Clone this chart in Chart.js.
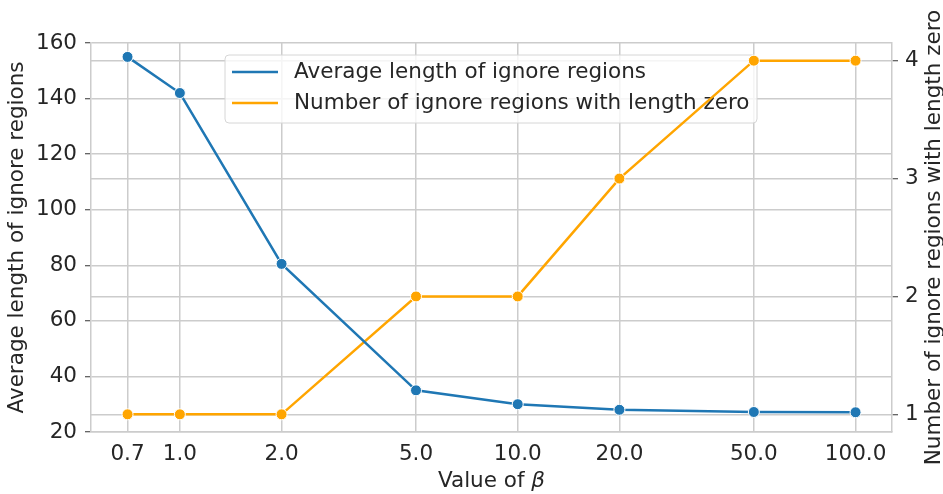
<!DOCTYPE html>
<html>
<head>
<meta charset="utf-8">
<script src="https://cdn.jsdelivr.net/npm/chart.js@4.4.1/dist/chart.umd.min.js"></script>
<style>
  html, body { margin: 0; padding: 0; background: #ffffff; }
  #wrap { width: 943px; height: 494px; position: relative; }
</style>
</head>
<body>
<div id="wrap"><canvas id="c"></canvas></div>
<script>
// ---- data ----
const betaValues = [0.7, 1.0, 2.0, 5.0, 10.0, 20.0, 50.0, 100.0];
const avgLength = [155, 142, 80.5, 35, 30, 28, 27.2, 27.1];
const zeroCount = [1, 1, 1, 2, 2, 3, 4, 4];
const xTickValues = [0.7, 1.0, 2.0, 5.0, 10.0, 20.0, 50.0, 100.0];
const xTickLabels = ['0.7', '1.0', '2.0', '5.0', '10.0', '20.0', '50.0', '100.0'];
const leftTicks = [20, 40, 60, 80, 100, 120, 140, 160];
const rightTicks = [1, 2, 3, 4];
const seriesNames = ['Average length of ignore regions', 'Number of ignore regions with length zero'];
const xTitleText = 'Value of ';
const xTitleSymbol = '\u03B2';
const leftTitle = 'Average length of ignore regions';
const rightTitle = 'Number of ignore regions with length zero';

const BLUE = '#1f77b4';
const ORANGE = '#ffa500';
const GRID = '#cccccc';
const TEXT = '#262626';
const FONT = 'DejaVu Sans';
const FS = 21.5;

const legendPlugin = {
  id: 'innerLegend',
  beforeDatasetsDraw(chart) {
    const ctx = chart.ctx;
    ctx.save();
    const x0 = 225, y0 = 55, x1 = 757, y1 = 123, r = 4;
    ctx.beginPath();
    ctx.moveTo(x0 + r, y0);
    ctx.arcTo(x1, y0, x1, y1, r);
    ctx.arcTo(x1, y1, x0, y1, r);
    ctx.arcTo(x0, y1, x0, y0, r);
    ctx.arcTo(x0, y0, x1, y0, r);
    ctx.closePath();
    ctx.fillStyle = 'rgba(255,255,255,0.8)';
    ctx.fill();
    ctx.strokeStyle = '#d6d6d6';
    ctx.lineWidth = 1;
    ctx.stroke();
    const rows = [72, 103];
    chart.data.datasets.forEach((ds, i) => {
      ctx.beginPath();
      ctx.strokeStyle = ds.borderColor;
      ctx.lineWidth = 2.5;
      ctx.moveTo(232, rows[i]);
      ctx.lineTo(278, rows[i]);
      ctx.stroke();
      ctx.fillStyle = TEXT;
      ctx.font = FS + 'px "' + FONT + '"';
      ctx.textBaseline = 'middle';
      ctx.textAlign = 'left';
      ctx.fillText(ds.label, 294, rows[i]);
    });
    ctx.restore();
  }
};

const titlesPlugin = {
  id: 'extraTitles',
  afterDraw(chart) {
    const ctx = chart.ctx;
    const area = chart.chartArea;
    ctx.save();
    // right axis title (reads bottom to top)
    ctx.translate(934, (area.top + area.bottom) / 2);
    ctx.rotate(-Math.PI / 2);
    ctx.fillStyle = TEXT;
    ctx.font = FS + 'px "' + FONT + '"';
    ctx.textAlign = 'center';
    ctx.textBaseline = 'middle';
    ctx.fillText(rightTitle, 0, 0);
    ctx.restore();

    // x axis title with italic beta
    ctx.save();
    ctx.fillStyle = TEXT;
    ctx.textBaseline = 'alphabetic';
    ctx.textAlign = 'left';
    const normal = FS + 'px "' + FONT + '"';
    const italic = 'italic ' + FS + 'px "' + FONT + '"';
    ctx.font = normal;
    const w1 = ctx.measureText(xTitleText).width;
    ctx.font = italic;
    const w2 = ctx.measureText(xTitleSymbol).width;
    const cx = (area.left + area.right) / 2;
    const start = cx - (w1 + w2) / 2;
    const base = 487;
    ctx.font = normal;
    ctx.fillText(xTitleText, start, base);
    ctx.font = italic;
    ctx.fillText(xTitleSymbol, start + w1, base);
    ctx.restore();
  }
};

const ctx = document.getElementById('c').getContext('2d');
new Chart(ctx, {
  type: 'line',
  data: {
    datasets: [
      {
        label: seriesNames[0],
        data: betaValues.map((b, i) => ({ x: b, y: avgLength[i] })),
        borderColor: BLUE,
        backgroundColor: BLUE,
        pointBackgroundColor: BLUE,
        pointBorderColor: '#ffffff',
        pointBorderWidth: 1,
        pointRadius: 5.5,
        borderWidth: 2.5,
        yAxisID: 'y',
        tension: 0
      },
      {
        label: seriesNames[1],
        data: betaValues.map((b, i) => ({ x: b, y: zeroCount[i] })),
        borderColor: ORANGE,
        backgroundColor: ORANGE,
        pointBackgroundColor: ORANGE,
        pointBorderColor: '#ffffff',
        pointBorderWidth: 1,
        pointRadius: 5.5,
        borderWidth: 2.5,
        yAxisID: 'y1',
        tension: 0
      }
    ]
  },
  options: {
    responsive: true,
    maintainAspectRatio: false,
    animation: false,
    layout: { padding: { top: 43, left: 0, right: 0, bottom: 0 } },
    plugins: {
      legend: { display: false },
      tooltip: { enabled: false },
      title: { display: false }
    },
    scales: {
      x: {
        type: 'logarithmic',
        position: 'bottom',
        min: 0.5457,
        max: 128.2,
        afterBuildTicks(scale) { scale.ticks = xTickValues.map(v => ({ value: v })); },
        afterFit(scale) { scale.height = 62; },
        ticks: {
          autoSkip: false,
          maxRotation: 0,
          padding: 10,
          color: TEXT,
          font: { family: FONT, size: FS },
          callback(value) {
            const i = xTickValues.indexOf(value);
            return i >= 0 ? xTickLabels[i] : '';
          }
        },
        grid: { color: GRID, lineWidth: 1.5, drawTicks: false },
        border: { display: true, color: GRID, width: 1.5 },
        title: { display: false }
      },
      y: {
        type: 'linear',
        position: 'left',
        min: 20,
        max: 160,
        afterBuildTicks(scale) { scale.ticks = leftTicks.map(v => ({ value: v })); },
        afterFit(scale) { scale.width = 91; },
        ticks: {
          padding: 8,
          color: TEXT,
          font: { family: FONT, size: FS }
        },
        grid: { color: GRID, lineWidth: 1.5, drawTicks: true, tickLength: 6, tickColor: '#333333', tickWidth: 1 },
        border: { display: true, color: GRID, width: 1.5 },
        title: {
          display: true,
          text: leftTitle,
          color: TEXT,
          font: { family: FONT, size: FS },
          padding: { top: 5, bottom: 0 }
        }
      },
      y1: {
        type: 'linear',
        position: 'right',
        min: 0.85,
        max: 4.15,
        afterBuildTicks(scale) { scale.ticks = rightTicks.map(v => ({ value: v })); },
        afterFit(scale) { scale.width = 51; },
        ticks: {
          padding: 7,
          color: TEXT,
          font: { family: FONT, size: FS }
        },
        grid: { color: GRID, lineWidth: 1.5, drawOnChartArea: true, drawTicks: true, tickLength: 6, tickColor: '#333333', tickWidth: 1 },
        border: { display: true, color: GRID, width: 1.5 },
        title: { display: false }
      }
    }
  },
  plugins: [legendPlugin, titlesPlugin]
});
</script>
</body>
</html>
